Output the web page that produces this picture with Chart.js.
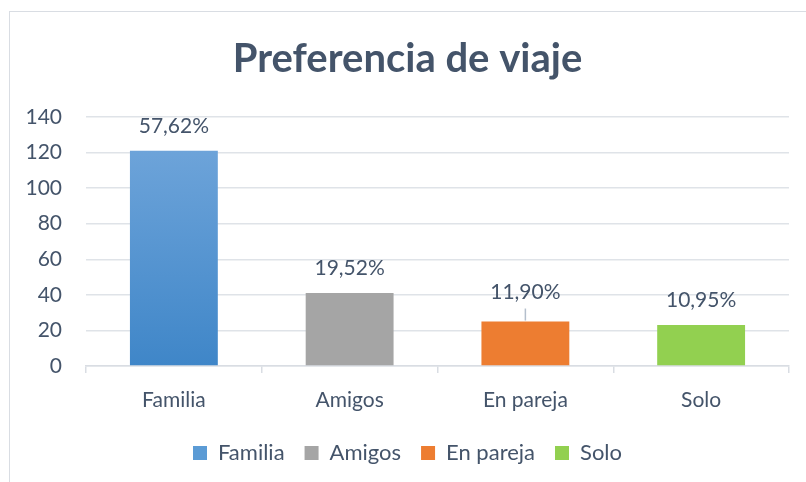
<!DOCTYPE html>
<html>
<head>
<meta charset="utf-8">
<script src="https://cdn.jsdelivr.net/npm/chart.js@4.4.1/dist/chart.umd.min.js"></script>
<style>
  body { margin: 0; background: #fff; }
  #frame { position: absolute; left: 9px; top: 11px; width: 820px; height: 500px;
           border-left: 1px solid #d9dde3; border-top: 1px solid #d9dde3; }
  #wrap { position: absolute; left: 0; top: 0; width: 806px; height: 482px; }
</style>
</head>
<body>
<div id="frame"></div>
<div id="wrap"><canvas id="barChart" width="806" height="482"></canvas></div>
<script>
// values (count of answers per option)
const categories = ['Familia', 'Amigos', 'En pareja', 'Solo'];
const answers = [121, 41, 25, 23];
const pctLabels = ['57,62%', '19,52%', '11,90%', '10,95%'];
const yTicks = [0, 20, 40, 60, 80, 100, 120, 140];

const textColor = '#44546a';
const barColors = ['#5b9bd5', '#a5a5a5', '#ed7d31', '#92d050'];

// Familia bar has a light-to-dark blue gradient
function barFill(ctx) {
  const chart = ctx.chart;
  const area = chart.chartArea;
  if (ctx.dataIndex !== 0 || !area) return barColors[ctx.dataIndex];
  const g = chart.ctx.createLinearGradient(0, area.top, 0, area.bottom);
  g.addColorStop(0, '#74a8dc');
  g.addColorStop(1, '#3f86c8');
  return g;
}

// percent labels above the bars (third one has a small leader line)
const pctPlugin = {
  id: 'pctPlugin',
  afterDatasetsDraw(chart) {
    const c = chart.ctx;
    const bars = chart.getDatasetMeta(0).data;
    c.save();
    c.font = '21px Lato';
    c.fillStyle = textColor;
    c.textAlign = 'center';
    c.textBaseline = 'middle';
    bars.forEach((bar, i) => {
      const gap = i === 2 ? 29 : 25;
      c.fillText(pctLabels[i], bar.x, bar.y - gap);
      if (i === 2) {
        c.strokeStyle = '#b4bfcc';
        c.lineWidth = 1.5;
        c.beginPath();
        c.moveTo(bar.x, bar.y - 13);
        c.lineTo(bar.x, bar.y - 1);
        c.stroke();
      }
    });
    c.restore();
  }
};

const ctx = document.querySelector('#barChart').getContext('2d');
const barChart = new Chart(ctx, {
  type: 'bar',
  data: {
    labels: categories,
    datasets: [{
      label: 'Preferencia',
      data: answers,
      backgroundColor: barFill,
      barPercentage: 0.5,
      categoryPercentage: 1.0
    }]
  },
  options: {
    responsive: false,
    animation: false,
    layout: { padding: { left: 26, right: 17, top: 0, bottom: 8 } },
    scales: {
      x: {
        grid: { drawOnChartArea: false, drawTicks: true, tickLength: 7, color: '#d9dde3', lineWidth: 1.5 },
        border: { color: '#d9dde3', width: 1.5 },
        ticks: { color: textColor, font: { family: 'Lato', size: 21 }, padding: 15 },
        afterFit(scale) { scale.height = 56; }
      },
      y: {
        min: 0,
        max: 140,
        afterBuildTicks(scale) { scale.ticks = yTicks.map(v => ({ value: v })); },
        grid: { color: '#dfe3e8', lineWidth: 1.5, drawTicks: false },
        border: { display: false },
        ticks: { color: textColor, font: { family: 'Lato', size: 21 }, padding: 24 },
        afterFit(scale) { scale.width = 60; }
      }
    },
    plugins: {
      title: {
        display: true,
        text: 'Preferencia de viaje',
        color: textColor,
        font: { family: 'Lato', size: 40, weight: 'bold' },
        padding: { top: 35, bottom: 34 }
      },
      legend: {
        position: 'bottom',
        labels: {
          color: textColor,
          font: { family: 'Lato', size: 22 },
          boxWidth: 14,
          boxHeight: 14,
          padding: 20,
          generateLabels() {
            return categories.map((name, i) => ({
              text: name,
              fillStyle: barColors[i],
              strokeStyle: barColors[i],
              lineWidth: 0,
              fontColor: textColor,
              index: i
            }));
          }
        }
      },
      tooltip: { enabled: false }
    }
  },
  plugins: [pctPlugin]
});
</script>
</body>
</html>
